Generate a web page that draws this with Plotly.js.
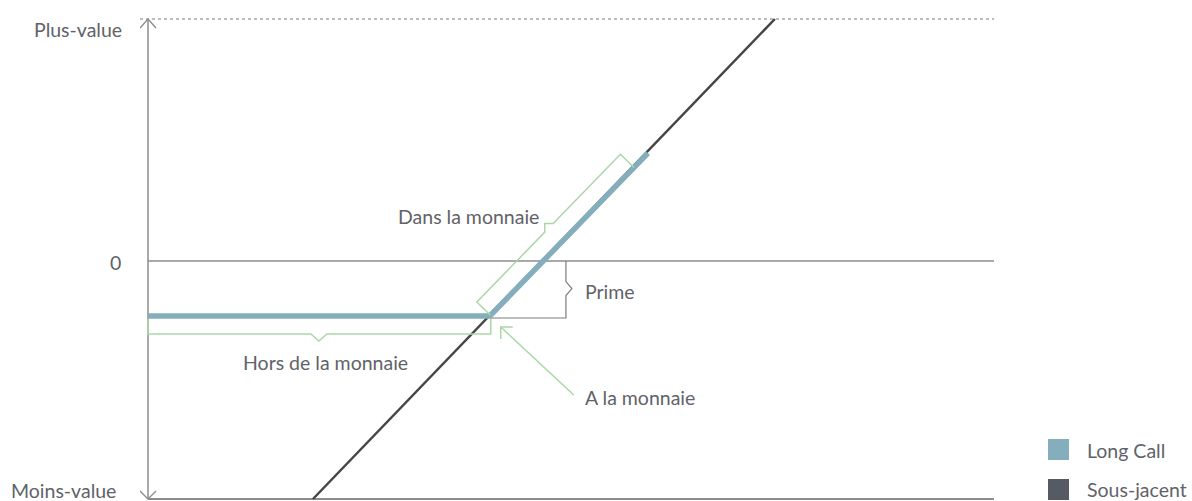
<!DOCTYPE html>
<html><head><meta charset="utf-8">
<script src="https://cdn.plot.ly/plotly-3.0.1.min.js"></script>
<style>html,body{margin:0;padding:0;background:#fff}#chart{width:1192px;height:501px}</style>
</head><body><div id="chart"></div>
<script>
// ---- data ----
const seriesNames = ['Long Call', 'Sous-jacent'];
const longCallX = [0, 40.4, 59.1];
const longCallY = [-22.7, -22.7, 44.6];
const underlyingX = [19.5, 74.1];
const underlyingY = [-98.3, 100];
const yTickLabels = ['Plus-value', '0', 'Moins-value'];
const yTickValues = [100, 0, -98.3];
const strike = 40.4;
const premium = 22.7;
const primeX = 49.4;
const annotationTexts = ['Dans la monnaie', 'Prime', 'Hors de la monnaie', 'A la monnaie'];

// ---- geometry ----
const FIG_W = 1192, FIG_H = 501;
const X0PX = 148, X100PX = 994;           // pixel of x=0 and x=100
const YTOPPX = 19, YBOTPX = 499;          // pixel of y=100 and y=-98.3
const pxPerX = (X100PX - X0PX) / 100;
const pxPerY = (YBOTPX - YTOPPX) / (yTickValues[0] - yTickValues[2]);
const M = {l: 140, r: 192, t: 10, b: 0};
const plotW = FIG_W - M.l - M.r, plotH = FIG_H - M.t - M.b;
const xRange = [(M.l - X0PX) / pxPerX, (FIG_W - M.r - X0PX) / pxPerX];
const yRange = [yTickValues[0] - (FIG_H - M.b - YTOPPX) / pxPerY, yTickValues[0] + (YTOPPX - M.t) / pxPerY];

const px = x => X0PX + x * pxPerX;
const py = y => YTOPPX + (yTickValues[0] - y) * pxPerY;
const dx = p => p / pxPerX;        // pixel offset -> data x
const dy = p => -p / pxPerY;       // pixel offset (down positive) -> data y
const paperX = p => (p - M.l) / plotW;
const paperY = p => 1 - (p - M.t) / plotH;

const GREEN = '#aad7a6', GREY = '#8c8c8c', TEXT = '#5f6369';
const BLUE = '#84aebc', DARK = '#464646', DARK_SQ = '#565b63';
const FONT = {family: 'Lato, "Open Sans", sans-serif', size: 19.5, color: TEXT};

function pathFrom(points) {
  return points.map((p, i) => (i ? 'L' : 'M') + p[0] + ',' + p[1]).join(' ');
}

// Out-of-the-money bracket under the flat part
const yLC = longCallY[0];
const xMid = (longCallX[0] + strike) / 2;
const horsPath = pathFrom([
  [longCallX[0], yLC + dy(3)], [longCallX[0], yLC + dy(18)],
  [xMid - dx(8), yLC + dy(18)], [xMid, yLC + dy(25)], [xMid + dx(8), yLC + dy(18)],
  [strike + dx(1), yLC + dy(18)], [strike + dx(1), yLC + dy(3)]
]);

// Premium bracket
const yMidPrime = (0 + (-premium)) / 2;
const primePath = pathFrom([
  [strike, -premium + dy(2)], [primeX, -premium + dy(2)],
  [primeX, yMidPrime + dy(7)], [primeX + dx(6), yMidPrime], [primeX, yMidPrime + dy(-7)],
  [primeX, 0]
]);

// In-the-money bracket parallel to the rising leg
const Ax = px(strike), Ay = py(-premium);
const Bx = px(longCallX[2]), By = py(longCallY[2]);
const L = Math.hypot(Bx - Ax, By - Ay);
const ux = (Bx - Ax) / L, uy = (By - Ay) / L;
const nx = uy, ny = -ux;   // perpendicular toward upper-left
const P = (a, n) => {
  const X = Ax + a * ux + n * nx, Y = Ay + a * uy + n * ny;
  return [(X - X0PX) / pxPerX, yTickValues[0] - (Y - YTOPPX) / pxPerY];
};
const endA = L - 20, midA = endA / 2 + 1;
const dansPath = pathFrom([
  P(1, 0), P(1, 19), P(midA - 6, 19), P(midA, 25), P(midA + 6, 19), P(endA, 19), P(endA, 0)
]);

// At-the-money arrow
const tipX = strike + dx(11), tipY = -premium + dy(11);
const arrowPath = pathFrom([[tipX + dx(73), tipY + dy(68)], [tipX, tipY]]) + ' ' +
  pathFrom([[tipX, tipY + dy(12)], [tipX, tipY], [tipX + dx(12), tipY]]);

const shapes = [
  // top dotted reference line
  {type: 'line', xref: 'x', yref: 'y', x0: dx(-8), x1: 100, y0: yTickValues[0], y1: yTickValues[0],
   line: {color: '#7a7a7a', width: 1, dash: 'dot'}, layer: 'below'},
  // y axis
  {type: 'line', xref: 'x', yref: 'y', x0: 0, x1: 0, y0: yTickValues[0], y1: yTickValues[2],
   line: {color: GREY, width: 1.5}, layer: 'below'},
  {type: 'path', xref: 'x', yref: 'y',
   path: pathFrom([[dx(-8), yTickValues[0] + dy(9)], [0, yTickValues[0]], [dx(8), yTickValues[0] + dy(9)]]),
   line: {color: GREY, width: 1.3}},
  {type: 'path', xref: 'x', yref: 'y',
   path: pathFrom([[dx(-8), yTickValues[2] + dy(-8)], [0, yTickValues[2]], [dx(8), yTickValues[2] + dy(-8)]]),
   line: {color: GREY, width: 1.3}},
  // zero line
  {type: 'line', xref: 'x', yref: 'y', x0: 0, x1: 100, y0: 0, y1: 0,
   line: {color: GREY, width: 1.5}, layer: 'below'},
  // bottom line
  {type: 'line', xref: 'x', yref: 'y', x0: 0, x1: 100, y0: yTickValues[2], y1: yTickValues[2],
   line: {color: GREY, width: 2}, layer: 'below'},
  // brackets
  {type: 'path', xref: 'x', yref: 'y', path: primePath, line: {color: '#7d7d7d', width: 1.2}, layer: 'below'},
  {type: 'path', xref: 'x', yref: 'y', path: horsPath, line: {color: GREEN, width: 1.5}},
  {type: 'path', xref: 'x', yref: 'y', path: dansPath, line: {color: GREEN, width: 1.5}},
  {type: 'path', xref: 'x', yref: 'y', path: arrowPath, line: {color: GREEN, width: 1.5}},
  // legend squares
  {type: 'rect', xref: 'paper', yref: 'paper', x0: paperX(1048), x1: paperX(1069), y0: paperY(460), y1: paperY(439),
   fillcolor: BLUE, line: {width: 0}},
  {type: 'rect', xref: 'paper', yref: 'paper', x0: paperX(1048), x1: paperX(1069), y0: paperY(500), y1: paperY(479),
   fillcolor: DARK_SQ, line: {width: 0}}
];

const ann = (text, x, y, xanchor, extra) => Object.assign({
  text, x, y, xref: 'paper', yref: 'paper', xanchor, yanchor: 'middle',
  showarrow: false, font: FONT
}, extra || {});

const annotations = [
  ann(yTickLabels[0], paperX(124), paperY(30), 'right'),
  ann(yTickLabels[1], paperX(123), paperY(262), 'right'),
  ann(yTickLabels[2], paperX(118), paperY(490), 'right'),
  ann(annotationTexts[0], paperX(541), paperY(216), 'right'),
  ann(annotationTexts[1], paperX(583), paperY(291), 'left'),
  ann(annotationTexts[2], paperX(325), paperY(362), 'center'),
  ann(annotationTexts[3], paperX(583), paperY(397), 'left'),
  ann(seriesNames[0], paperX(1085), paperY(450), 'left'),
  ann(seriesNames[1], paperX(1085), paperY(489), 'left')
];

const traces = [
  {x: underlyingX, y: underlyingY, name: seriesNames[1], type: 'scatter', mode: 'lines',
   line: {color: DARK, width: 2.5}, hoverinfo: 'skip'},
  {x: longCallX, y: longCallY, name: seriesNames[0], type: 'scatter', mode: 'lines',
   line: {color: BLUE, width: 5.5}, hoverinfo: 'skip'}
];

const layout = {
  width: FIG_W, height: FIG_H,
  margin: M,
  paper_bgcolor: '#ffffff', plot_bgcolor: '#ffffff',
  showlegend: false,
  xaxis: {range: xRange, visible: false, fixedrange: true},
  yaxis: {range: yRange, visible: false, fixedrange: true},
  shapes, annotations,
  font: FONT
};

Plotly.newPlot('chart', traces, layout, {displayModeBar: false, staticPlot: true});
</script>
</body></html>
